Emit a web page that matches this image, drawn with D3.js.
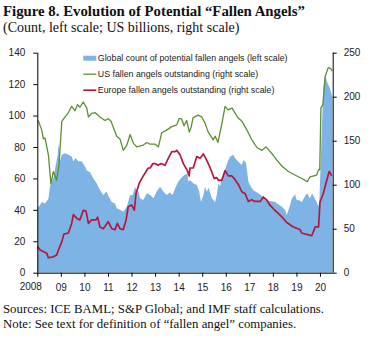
<!DOCTYPE html>
<html>
<head>
<meta charset="utf-8">
<script src="https://cdn.jsdelivr.net/npm/d3@7"></script>
<style>
  body { margin: 0; background: #fff; }
  .axis text { font-family: "Liberation Sans", Arial, sans-serif; font-size: 10px; fill: #222; }
  .axis path, .axis line { stroke: #000; stroke-width: 1; }
  .legend text { font-family: "Liberation Sans", Arial, sans-serif; font-size: 8.8px; fill: #222; }
  .title { font-family: "Liberation Serif", "Times New Roman", serif; fill: #111; }
</style>
</head>
<body>
<div id="chart"></div>
<script>
// global count of potential fallen angels (left scale)
var countYears = [2008.0, 2008.11, 2008.19, 2008.33, 2008.47, 2008.54, 2008.68, 2008.78, 2008.87, 2008.89, 2008.93, 2008.96,
  2009.04, 2009.18, 2009.32, 2009.46, 2009.53, 2009.62, 2009.74, 2009.89, 2010.03, 2010.1, 2010.24, 2010.38, 2010.52,
  2010.66, 2010.8, 2010.95, 2011.01, 2011.16, 2011.3, 2011.37, 2011.51, 2011.65, 2011.8, 2011.94, 2012.05, 2012.15,
  2012.22, 2012.29, 2012.36, 2012.5, 2012.65, 2012.79, 2012.93, 2013.07, 2013.21, 2013.35, 2013.49, 2013.63, 2013.75,
  2013.85, 2013.99, 2014.09, 2014.23, 2014.37, 2014.41, 2014.48, 2014.62, 2014.77, 2014.87, 2014.95, 2015.05, 2015.12,
  2015.2, 2015.27, 2015.41, 2015.55, 2015.62, 2015.69, 2015.76, 2015.83, 2015.94, 2016.08, 2016.18, 2016.32, 2016.39,
  2016.54, 2016.68, 2016.75, 2016.86, 2016.96, 2017.07, 2017.17, 2017.33, 2017.53, 2017.81, 2018.09, 2018.38, 2018.52,
  2018.59, 2018.73, 2018.8, 2018.94, 2019.01, 2019.15, 2019.23, 2019.37, 2019.46, 2019.57, 2019.67, 2019.75, 2019.86,
  2019.94, 2019.98, 2020.04, 2020.1, 2020.15, 2020.22, 2020.29, 2020.36, 2020.43, 2020.5, 2020.54]
var countValues = [41, 43, 45, 44, 47, 55, 60, 68, 75, 82, 78, 71,
  75, 76, 75, 74, 71, 73, 71, 71, 67.5, 65, 64, 60, 57,
  52.6, 49.5, 51.6, 49, 45, 44, 41, 40, 38.8, 42, 49.5, 49.5, 54.7,
  52, 51.6, 47.4, 46.3, 50.5, 49.5, 47.4, 51.6, 54.7, 51.6, 49.5, 51, 49.5,
  53.7, 58, 60, 62, 63.3, 58, 59, 57, 55.8, 51.6, 45, 49.5, 54.7,
  51.5, 54, 47.4, 45, 49.5, 57, 55, 60, 64.3, 70.6, 73.8, 75, 73,
  70.6, 68.5, 71.7, 70, 58, 54.7, 52.5, 51, 49, 46, 45, 42, 40,
  36.7, 43, 47, 50, 46.3, 46, 45, 49, 50.5, 47.4, 50.5, 48, 45,
  42, 48, 75, 100, 118, 127, 121.6, 119.5, 117, 113, 110]

// US fallen angels outstanding, US$ billions (right scale)
var usYears = [2008.0, 2008.05, 2008.19, 2008.26, 2008.33, 2008.47, 2008.58, 2008.68, 2008.82, 2008.92, 2009.04, 2009.18,
  2009.32, 2009.46, 2009.6, 2009.71, 2009.81, 2009.95, 2010.1, 2010.17, 2010.31, 2010.45, 2010.66, 2010.87, 2011.01,
  2011.13, 2011.23, 2011.37, 2011.51, 2011.65, 2011.8, 2011.94, 2012.08, 2012.22, 2012.5, 2012.65, 2012.79, 2013.0,
  2013.14, 2013.28, 2013.49, 2013.71, 2013.92, 2014.02, 2014.12, 2014.23, 2014.34, 2014.45, 2014.53, 2014.61, 2014.82,
  2014.98, 2015.12, 2015.25, 2015.42, 2015.46, 2015.55, 2015.67, 2015.84, 2015.97, 2016.1, 2016.27, 2016.4, 2016.52,
  2016.69, 2016.9, 2017.11, 2017.33, 2017.54, 2017.71, 2017.84, 2018.0, 2018.17, 2018.39, 2018.66, 2018.94, 2019.23,
  2019.46, 2019.58, 2019.86, 2019.94, 2019.99, 2020.04, 2020.12, 2020.22, 2020.35, 2020.46, 2020.52]
var usValues = [173, 172, 162, 152, 153, 134, 101, 115, 105, 122, 172, 177,
  182, 189, 184, 191, 188, 194, 187, 177, 181, 182, 177, 173, 175,
  172, 165, 155, 152, 139, 145, 157, 147, 143, 145, 148, 146, 146,
  143, 159, 162, 166, 168, 175, 175, 167, 173, 160, 165, 176, 179,
  177, 170, 160, 153, 151, 155, 148, 170, 189, 185, 187, 181, 176,
  172, 162, 151, 142, 139, 143, 139, 134, 128, 121, 115, 111, 107,
  103.5, 109, 111, 117, 117, 187, 191, 223, 233, 232, 229]

// Europe fallen angels outstanding, US$ billions (right scale)
var euroYears = [2008.0, 2008.11, 2008.25, 2008.4, 2008.47, 2008.68, 2008.82, 2008.93, 2009.04, 2009.13, 2009.32, 2009.46,
  2009.53, 2009.67, 2009.81, 2009.95, 2010.07, 2010.17, 2010.31, 2010.49, 2010.56, 2010.66, 2010.8, 2011.01, 2011.16,
  2011.3, 2011.4, 2011.51, 2011.65, 2011.77, 2011.86, 2012.0, 2012.12, 2012.19, 2012.33, 2012.5, 2012.71, 2012.79,
  2012.91, 2013.0, 2013.13, 2013.25, 2013.42, 2013.56, 2013.71, 2013.85, 2013.92, 2014.06, 2014.2, 2014.37, 2014.45,
  2014.48, 2014.62, 2014.77, 2014.91, 2015.05, 2015.15, 2015.26, 2015.4, 2015.51, 2015.62, 2015.69, 2015.83, 2015.97,
  2016.11, 2016.25, 2016.39, 2016.54, 2016.68, 2016.82, 2016.96, 2017.1, 2017.24, 2017.46, 2017.6, 2017.73, 2017.87,
  2018.08, 2018.36, 2018.59, 2018.87, 2019.15, 2019.23, 2019.37, 2019.51, 2019.65, 2019.8, 2019.94, 2020.0, 2020.14,
  2020.29, 2020.39, 2020.5]
var euroValues = [30, 26, 24, 22, 17, 18, 20, 28, 35, 44, 45, 56,
  66, 62, 60, 71, 70, 56, 60, 60, 63, 52, 50, 58, 50,
  49, 56, 50, 49, 60, 75, 77, 71, 90, 102, 110, 119, 119,
  124, 124, 122, 124, 122, 130, 137.5, 137.5, 139, 134, 124, 116, 110,
  119, 119, 132, 130, 135, 130, 124, 115, 107, 108, 105, 105, 116,
  110, 110, 106, 100, 92, 90, 81, 83, 81, 81, 86, 83, 77,
  71, 64, 57, 52, 49, 45, 44, 43, 42, 52, 52, 80, 90,
  105, 115, 110]

var yearTicks = [2008, 2009, 2010, 2011, 2012, 2013, 2014, 2015, 2016, 2017, 2018, 2019, 2020]
var yearLabels = ["2008", "09", "10", "11", "12", "13", "14", "15", "16", "17", "18", "19", "20"]
var leftTicks = [0, 20, 40, 60, 80, 100, 120, 140]
var rightTicks = [0, 50, 100, 150, 200, 250]

var legendLabels = ["Global count of potential fallen angels (left scale)",
  "US fallen angels outstanding (right scale)",
  "Europe fallen angels outstanding (right scale)"]

var blue = "#7db3e5", green = "#5d8e34", red = "#b5183d"

var totalWidth = 370, totalHeight = 338
var margin = { top: 52.7, left: 37.3, right: 37.3, bottom: 65.3 },
  width = totalWidth - margin.left - margin.right,
  height = totalHeight - margin.top - margin.bottom

var root = d3.select("#chart")
  .append("svg")
  .attr("width", totalWidth)
  .attr("height", totalHeight)

// titles
root.append("text")
  .attr("class", "title")
  .attr("x", 3)
  .attr("y", 15.5)
  .attr("font-size", "14.8px")
  .attr("font-weight", "bold")
  .text("Figure 8. Evolution of Potential \u201cFallen Angels\u201d")

root.append("text")
  .attr("class", "title")
  .attr("x", 3)
  .attr("y", 31.5)
  .attr("font-size", "14px")
  .text("(Count, left scale; US billions, right scale)")

root.append("text")
  .attr("class", "title")
  .attr("x", 3)
  .attr("y", 313)
  .attr("font-size", "12.8px")
  .attr("fill", "#222")
  .text("Sources: ICE BAML; S&P Global; and IMF staff calculations.")

root.append("text")
  .attr("class", "title")
  .attr("x", 3)
  .attr("y", 328)
  .attr("font-size", "12.8px")
  .attr("fill", "#222")
  .text("Note: See text for definition of \u201cfallen angel\u201d companies.")

var svg = root.append("g")
  .attr("transform", "translate(" + margin.left + "," + margin.top + ")")

// scales
var xPositionScale = d3.scaleLinear()
  .domain([2008, 2020.54])
  .range([0, width])

var yLeftScale = d3.scaleLinear()
  .domain([0, 140])
  .range([height, 0])

var yRightScale = d3.scaleLinear()
  .domain([0, 250])
  .range([height, 0])

svg.append("clipPath")
  .attr("id", "plot-clip")
  .append("rect")
  .attr("width", width)
  .attr("height", height)

var countData = countYears.map(function(d, i) { return { year: d, value: countValues[i] } })
var usData = usYears.map(function(d, i) { return { year: d, value: usValues[i] } })
var euroData = euroYears.map(function(d, i) { return { year: d, value: euroValues[i] } })

var area = d3.area()
  .x(function(d) { return xPositionScale(d.year) })
  .y0(height)
  .y1(function(d) { return yLeftScale(d.value) })

var rightLine = d3.line()
  .x(function(d) { return xPositionScale(d.year) })
  .y(function(d) { return yRightScale(d.value) })

var plot = svg.append("g").attr("clip-path", "url(#plot-clip)")

plot.append("path")
  .datum(countData)
  .attr("d", area)
  .attr("fill", blue)

plot.append("path")
  .datum(usData)
  .attr("d", rightLine)
  .attr("fill", "none")
  .attr("stroke", green)
  .attr("stroke-width", 1.3)
  .attr("stroke-linejoin", "round")

plot.append("path")
  .datum(euroData)
  .attr("d", rightLine)
  .attr("fill", "none")
  .attr("stroke", red)
  .attr("stroke-width", 1.7)
  .attr("stroke-linejoin", "round")

// axes
var xAxis = d3.axisBottom(xPositionScale)
  .tickValues(yearTicks)
  .tickSize(4)
  .tickPadding(7)
  .tickFormat(function(d, i) { return yearLabels[i] })

svg.append("g")
  .attr("class", "axis x-axis")
  .attr("transform", "translate(0," + height + ")")
  .call(xAxis)

// "2008" sits a little left of its tick, tucked under the zero label
svg.select(".x-axis .tick text").attr("dx", "-7").attr("dy", "0.6em")
svg.select(".x-axis .domain").attr("d", "M0,0.5H" + width)

var yAxisLeft = d3.axisLeft(yLeftScale)
  .tickValues(leftTicks)
  .tickSize(4)
  .tickPadding(8)

svg.append("g")
  .attr("class", "axis y-axis")
  .call(yAxisLeft)

var yAxisRight = d3.axisRight(yRightScale)
  .tickValues(rightTicks)
  .tickSize(4)
  .tickPadding(7)

svg.append("g")
  .attr("class", "axis y-axis-right")
  .attr("transform", "translate(" + width + ",0)")
  .call(yAxisRight)

svg.selectAll(".y-axis .domain, .y-axis-right .domain")
  .attr("d", "M0.5,0V" + height)

// legend
var legend = svg.append("g")
  .attr("class", "legend")
  .attr("transform", "translate(46,5.5)")

legend.selectAll("text")
  .data(legendLabels)
  .enter().append("text")
  .attr("x", 14.5)
  .attr("y", function(d, i) { return i * 16 })
  .attr("dy", "0.35em")
  .text(function(d) { return d })

legend.append("rect")
  .attr("x", 0)
  .attr("y", -2.5)
  .attr("width", 13)
  .attr("height", 5)
  .attr("fill", blue)

legend.append("line")
  .attr("x1", 0).attr("x2", 13)
  .attr("y1", 16).attr("y2", 16)
  .attr("stroke", green)
  .attr("stroke-width", 1.3)

legend.append("line")
  .attr("x1", 0).attr("x2", 13)
  .attr("y1", 32).attr("y2", 32)
  .attr("stroke", red)
  .attr("stroke-width", 1.7)
</script>
</body>
</html>
